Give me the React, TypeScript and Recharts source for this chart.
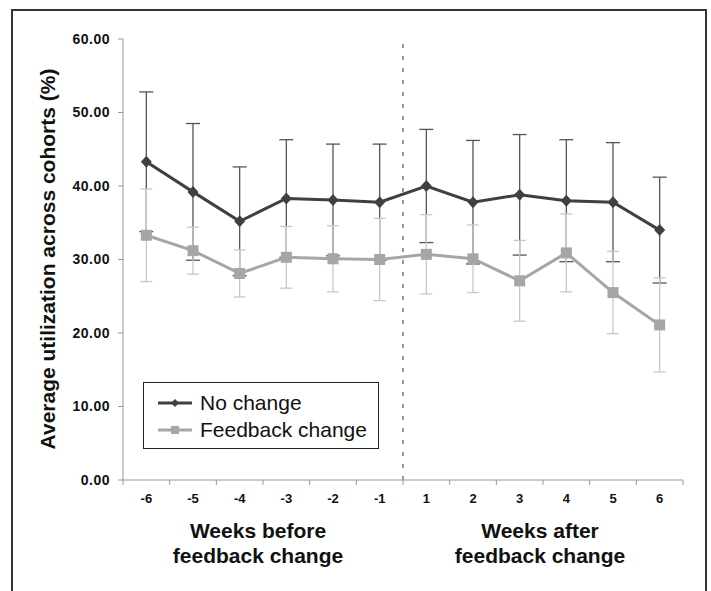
import { LineChart, Line, XAxis, YAxis, ErrorBar, ReferenceLine, Legend } from 'recharts';

const weeks = ['-6', '-5', '-4', '-3', '-2', '-1', '1', '2', '3', '4', '5', '6'];
const noChange = [43.3, 39.2, 35.2, 38.3, 38.1, 37.8, 40.0, 37.8, 38.8, 38.0, 37.8, 34.0];
const noChangeErr = [9.5, 9.3, 7.4, 8.0, 7.6, 7.9, 7.7, 8.4, 8.2, 8.3, 8.1, 7.2];
const feedback = [33.3, 31.2, 28.1, 30.3, 30.1, 30.0, 30.7, 30.1, 27.1, 30.9, 25.5, 21.1];
const feedbackErr = [6.3, 3.2, 3.2, 4.2, 4.5, 5.6, 5.4, 4.6, 5.5, 5.3, 5.6, 6.4];
const yTicks = [0, 10, 20, 30, 40, 50, 60];
const seriesOrder = ['noChange', 'feedback'];

// category i sits in the middle of slot [i, i+1]
const data = weeks.map((w, i) => ({
  week: w,
  pos: i + 0.5,
  noChange: noChange[i],
  noChangeErr: noChangeErr[i],
  feedback: feedback[i],
  feedbackErr: feedbackErr[i],
}));

const DARK = '#404040';
const LIGHT = '#a6a6a6';
const FONT = '"Liberation Sans", Arial, Helvetica, sans-serif';
const BAND = 560 / 12;

const Diamond = ({ cx, cy }: any) => (
  <polygon points={`${cx},${cy - 6} ${cx + 5.5},${cy} ${cx},${cy + 6} ${cx - 5.5},${cy}`} fill={DARK} />
);

const Square = ({ cx, cy }: any) => <rect x={cx - 5.5} y={cy - 5.5} width={11} height={11} fill={LIGHT} />;

const WeekTick = ({ x, y, payload }: any) => {
  const label = weeks[payload.value];
  if (label === undefined) return null;
  return (
    <text x={x + BAND / 2} y={y + 16} textAnchor="middle" fontSize={13} fontWeight={700} fill="#111" fontFamily={FONT}>
      {label}
    </text>
  );
};

const GroupLabels = () => (
  <g fontFamily={FONT} fontSize={21} fontWeight={700} fill="#111" textAnchor="middle">
    <text x={258} y={538}>Weeks before</text>
    <text x={258} y={563}>feedback change</text>
    <text x={540} y={538}>Weeks after</text>
    <text x={540} y={563}>feedback change</text>
  </g>
);

const YTitle = () => (
  <text
    x={55}
    y={259}
    transform="rotate(-90 55 259)"
    textAnchor="middle"
    fontFamily={FONT}
    fontSize={21}
    fontWeight={700}
    fill="#111"
  >
    Average utilization across cohorts (%)
  </text>
);

const LegendBox = ({ payload }: any) => {
  const items = [...(payload || [])].sort(
    (a: any, b: any) => seriesOrder.indexOf(a.dataKey) - seriesOrder.indexOf(b.dataKey)
  );
  return (
    <div
      style={{
        boxSizing: 'border-box',
        width: 236,
        height: 67,
        border: '1.5px solid #222',
        background: '#fff',
        padding: '6px 0 0 14px',
        fontFamily: FONT,
      }}
    >
      {items.map((p: any) => (
        <div key={p.value} style={{ display: 'flex', alignItems: 'center', height: 27 }}>
          <svg width={36} height={12} style={{ marginRight: 6 }}>
            <line x1={0} y1={6} x2={34} y2={6} stroke={p.color} strokeWidth={3} />
            {p.dataKey === 'noChange' ? (
              <polygon points="17,2 21,6 17,10 13,6" fill={p.color} />
            ) : (
              <rect x={13} y={2} width={8} height={8} fill={p.color} />
            )}
          </svg>
          <span style={{ fontSize: 21, color: '#111', lineHeight: '24px' }}>{p.value}</span>
        </div>
      ))}
    </div>
  );
};

export default function App() {
  return (
    <div style={{ position: 'absolute', left: 0, top: 0, width: 711, height: 591, background: '#fff', overflow: 'hidden' }}>
      <div
        style={{
          position: 'absolute',
          left: 11,
          top: 9,
          width: 696,
          height: 582,
          boxSizing: 'border-box',
          borderTop: '2px solid #333',
          borderLeft: '2px solid #333',
          borderRight: '2px solid #333',
        }}
      />
      <div style={{ position: 'absolute', left: 0, top: 0 }}>
        <LineChart width={711} height={591} data={data} margin={{ top: 39, right: 28, left: 63, bottom: 71 }}>
          <XAxis
            dataKey="pos"
            type="number"
            domain={[0, 12]}
            ticks={[0, 1, 2, 3, 4, 5, 6, 7, 8, 9, 10, 11, 12]}
            interval={0}
            height={40}
            stroke="#999"
            tickSize={5}
            tick={<WeekTick />}
            label={<GroupLabels />}
          />
          <YAxis
            type="number"
            domain={[0, 60]}
            ticks={yTicks}
            width={60}
            stroke="#999"
            tickSize={5}
            tickMargin={8}
            tickFormatter={(v: number) => v.toFixed(2)}
            tick={{ fontSize: 14, fontWeight: 700, fill: '#111', fontFamily: FONT, letterSpacing: 0.5 }}
            label={<YTitle />}
          />
          <ReferenceLine x={6} stroke="#333" strokeDasharray="4 8" strokeWidth={1} />
          <Legend
            layout="vertical"
            verticalAlign="middle"
            align="center"
            wrapperStyle={{ position: 'absolute', left: 143, top: 382, width: 236, height: 67 }}
            content={<LegendBox />}
          />
          <Line
            dataKey="noChange"
            name="No change"
            stroke={DARK}
            strokeWidth={3}
            dot={<Diamond />}
            isAnimationActive={false}
          >
            <ErrorBar dataKey="noChangeErr" direction="y" width={7} stroke="#555" strokeWidth={1.3} />
          </Line>
          <Line
            dataKey="feedback"
            name="Feedback change"
            stroke={LIGHT}
            strokeWidth={3}
            dot={<Square />}
            isAnimationActive={false}
          >
            <ErrorBar dataKey="feedbackErr" direction="y" width={6} stroke="#c8c8c8" strokeWidth={1.3} />
          </Line>
        </LineChart>
      </div>
    </div>
  );
}
